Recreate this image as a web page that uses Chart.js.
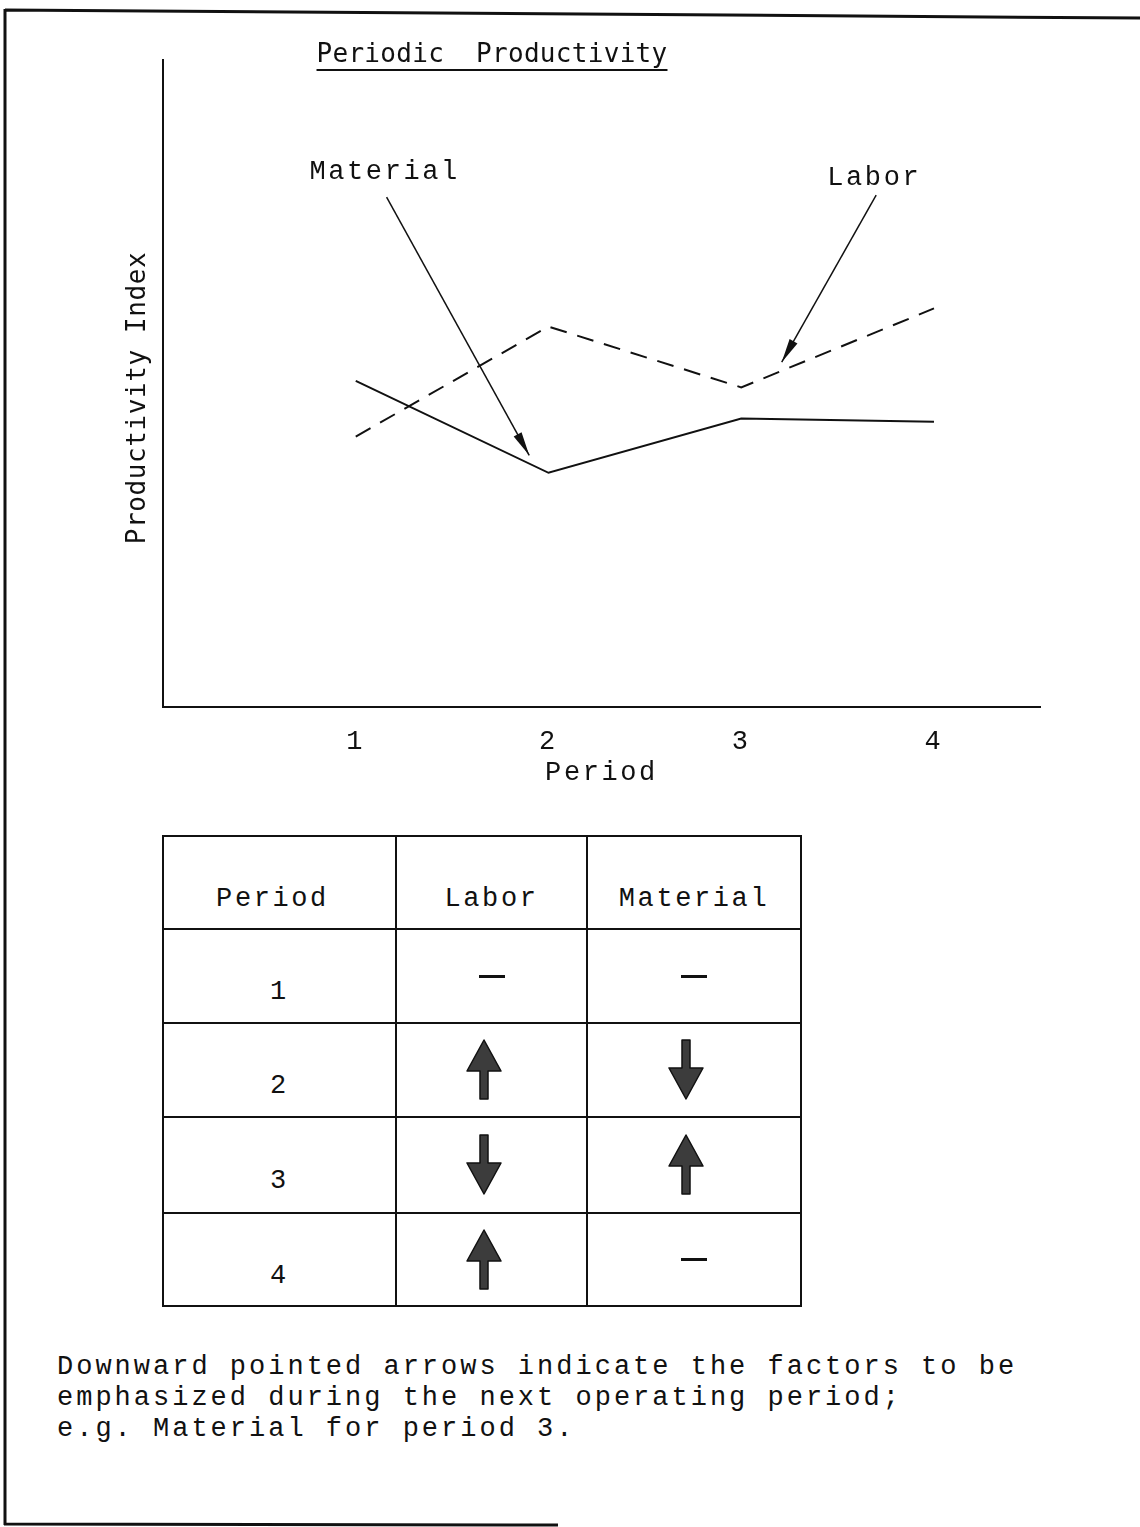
<!DOCTYPE html>
<html>
<head>
<meta charset="utf-8">
<title>Periodic Productivity</title>
<script src="https://cdn.jsdelivr.net/npm/chart.js@4.4.1/dist/chart.umd.min.js"></script>
<style>
  html, body { margin: 0; padding: 0; background: #fff; }
  #page { position: relative; width: 1140px; height: 1527px; overflow: hidden; background: #fff; }
  #frame { position: absolute; left: 0; top: 0; }
  #chartBox { position: absolute; left: 0; top: 0; width: 1140px; height: 800px; }
  #trendTable {
    position: absolute; left: 162px; top: 835px; width: 638px;
    border-collapse: collapse; table-layout: fixed;
    font-family: "Liberation Mono", "Courier New", monospace; font-size: 27px;
    letter-spacing: 2.6px; color: #111;
  }
  #trendTable td { border: 2px solid #111; text-align: center; padding: 0; vertical-align: middle; }
  #trendTable td.txt { padding-top: 32px; }
  #trendTable tr:first-child td:first-child { padding-right: 14px; }
  .dash { display: block; margin: 0 auto; width: 26px; height: 3px; background: #111; }
  .arrow { display: block; margin: 0 auto; position: relative; left: -8px; }
  #note {
    position: absolute; left: 57px; top: 1352px; white-space: pre;
    font-family: "Liberation Mono", "Courier New", monospace; font-size: 27px;
    letter-spacing: 3px; line-height: 31px; color: #111;
  }
</style>
</head>
<body>
<div id="page">
  <svg id="frame" width="1140" height="1527">
    <path d="M5 10 L1140 18 M5 9 L5 1525 M4 1524 L558 1525" stroke="#111" stroke-width="3" fill="none"/>
  </svg>
  <div id="chartBox"><canvas id="productivityChart" width="1140" height="800"></canvas></div>
  <table id="trendTable">
    <colgroup><col style="width:233px"><col style="width:191px"><col style="width:214px"></colgroup>
    <tbody id="trendBody"></tbody>
  </table>
  <div id="note"></div>
</div>
<script>
// chart values (index scale 0-100, no printed y ticks)
const periods = [1, 2, 3, 4];
const xTickLabels = ['1', '2', '3', '4'];
const laborIndex = [41.8, 58.8, 49.4, 61.6];
const materialIndex = [50.4, 36.2, 44.6, 44.1];

// callouts, in data units
const calloutText = ['Material', 'Labor'];
const calloutLabelX = [1.15, 3.69];
const calloutLabelY = [82.7, 81.8];
const calloutFromX = [1.16, 3.70];
const calloutFromY = [78.8, 79.1];
const calloutTipX = [1.90, 3.21];
const calloutTipY = [38.9, 53.3];

// table below the chart
const tableHeaders = ['Period', 'Labor', 'Material'];
const laborTrend = ['flat', 'up', 'down', 'up'];
const materialTrend = ['flat', 'down', 'up', 'flat'];
const rowHeights = [93, 94, 94, 96, 93];

const noteLines = [
  'Downward pointed arrows indicate the factors to be',
  'emphasized during the next operating period;',
  'e.g. Material for period 3.'
];

const INK = '#111';
const MONO = '"Liberation Mono", "Courier New", monospace';
const PLOTTER = '"DejaVu Sans Mono", monospace';

function trendMark(t) {
  if (t === 'flat') return '<span class="dash"></span>';
  const path = t === 'up'
    ? 'M18 1 L35 32 L22 32 L22 60 L14 60 L14 32 L1 32 Z'
    : 'M14 1 L22 1 L22 29 L35 29 L18 60 L1 29 L14 29 Z';
  return `<svg class="arrow" width="36" height="62" viewBox="0 0 36 62"><path d="${path}" fill="#3c3c3c" stroke="#111" stroke-width="1.5" stroke-linejoin="round"/></svg>`;
}

// build the table
const body = document.getElementById('trendBody');
const head = document.createElement('tr');
head.style.height = rowHeights[0] + 'px';
tableHeaders.forEach(h => {
  const td = document.createElement('td');
  td.className = 'txt';
  td.textContent = h;
  head.appendChild(td);
});
body.appendChild(head);
periods.forEach((p, i) => {
  const tr = document.createElement('tr');
  tr.style.height = rowHeights[i + 1] + 'px';
  tr.innerHTML = `<td class="txt">${p}</td><td>${trendMark(laborTrend[i])}</td><td>${trendMark(materialTrend[i])}</td>`;
  body.appendChild(tr);
});

document.getElementById('note').textContent = noteLines.join('\n');

// title, y title and the two callout arrows
const decorPlugin = {
  id: 'decor',
  beforeDraw(chart) {
    chart.ctx.letterSpacing = '2.6px';
  },
  afterDatasetsDraw(chart) {
    const { ctx, scales: { x, y } } = chart;
    ctx.save();
    ctx.fillStyle = INK;
    ctx.strokeStyle = INK;

    // heading, underlined
    ctx.letterSpacing = '0.3px';
    ctx.font = '26px ' + PLOTTER;
    ctx.textAlign = 'center';
    ctx.textBaseline = 'alphabetic';
    const title = 'Periodic  Productivity';
    const tw = ctx.measureText(title).width;
    ctx.fillText(title, 492, 62);
    ctx.lineWidth = 2;
    ctx.beginPath();
    ctx.moveTo(492 - tw / 2, 70);
    ctx.lineTo(492 + tw / 2, 70);
    ctx.stroke();

    // y axis title
    ctx.save();
    ctx.letterSpacing = '0.6px';
    ctx.translate(138, 398);
    ctx.rotate(-Math.PI / 2);
    ctx.textBaseline = 'middle';
    ctx.fillText('Productivity Index', 0, 0);
    ctx.restore();

    // callouts
    ctx.letterSpacing = '2.6px';
    ctx.font = '27px ' + MONO;
    ctx.textBaseline = 'middle';
    calloutText.forEach((txt, i) => {
      ctx.fillText(txt, x.getPixelForValue(calloutLabelX[i]), y.getPixelForValue(calloutLabelY[i]));
      const x0 = x.getPixelForValue(calloutFromX[i]);
      const y0 = y.getPixelForValue(calloutFromY[i]);
      const x1 = x.getPixelForValue(calloutTipX[i]);
      const y1 = y.getPixelForValue(calloutTipY[i]);
      const ang = Math.atan2(y1 - y0, x1 - x0);
      ctx.lineWidth = 1.5;
      ctx.beginPath();
      ctx.moveTo(x0, y0);
      ctx.lineTo(x1, y1);
      ctx.stroke();
      const len = 24, half = 4.5;
      const bx = x1 - Math.cos(ang) * len, by = y1 - Math.sin(ang) * len;
      ctx.beginPath();
      ctx.moveTo(x1, y1);
      ctx.lineTo(bx + Math.sin(ang) * half, by - Math.cos(ang) * half);
      ctx.lineTo(bx - Math.sin(ang) * half, by + Math.cos(ang) * half);
      ctx.closePath();
      ctx.fill();
    });
    ctx.restore();
  }
};

const ctx = document.getElementById('productivityChart').getContext('2d');
new Chart(ctx, {
  type: 'line',
  data: {
    datasets: [
      {
        label: 'Labor',
        data: periods.map((p, i) => ({ x: p, y: laborIndex[i] })),
        borderColor: INK,
        borderWidth: 2,
        borderDash: [17, 11],
        pointRadius: 0,
        tension: 0,
        fill: false
      },
      {
        label: 'Material',
        data: periods.map((p, i) => ({ x: p, y: materialIndex[i] })),
        borderColor: INK,
        borderWidth: 2,
        pointRadius: 0,
        tension: 0,
        fill: false
      }
    ]
  },
  options: {
    responsive: false,
    animation: false,
    devicePixelRatio: 1,
    layout: { padding: { left: 0, right: 100, top: 60, bottom: 0 } },
    plugins: {
      legend: { display: false },
      tooltip: { enabled: false }
    },
    scales: {
      x: {
        type: 'linear',
        min: 0,
        max: 4.55,
        afterBuildTicks: scale => { scale.ticks = periods.map(v => ({ value: v })); },
        afterFit: scale => { scale.height = 93; },
        grid: { display: false, drawTicks: false },
        border: { display: true, color: INK, width: 2 },
        ticks: {
          padding: 19,
          color: INK,
          font: { family: MONO, size: 27 },
          callback: v => xTickLabels[periods.indexOf(v)] ?? ''
        },
        title: {
          display: true,
          text: 'Period',
          color: INK,
          font: { family: MONO, size: 27 },
          padding: { top: 0, bottom: 11 }
        }
      },
      y: {
        min: 0,
        max: 100,
        afterFit: scale => { scale.width = 163; },
        ticks: { display: false },
        grid: { display: false, drawTicks: false },
        border: { display: true, color: INK, width: 2 }
      }
    }
  },
  plugins: [decorPlugin]
});
</script>
</body>
</html>
